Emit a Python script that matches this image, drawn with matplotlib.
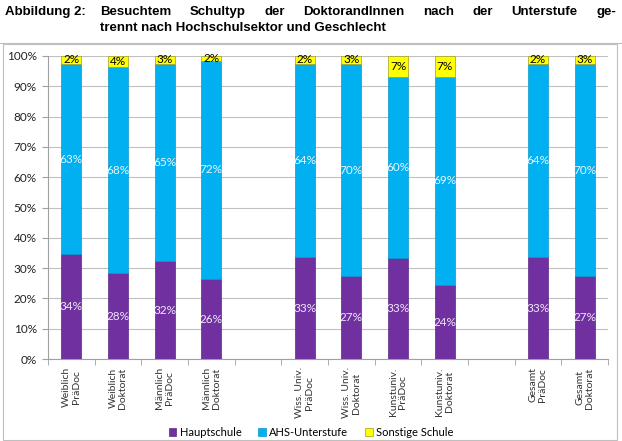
import numpy as np
import matplotlib
matplotlib.use('Agg')
import matplotlib.pyplot as plt
from matplotlib import font_manager
from matplotlib.patches import Rectangle, Patch

# categories (empty strings are the gaps between the groups)
categories = ['Weiblich\nPräDoc', 'Weiblich\nDoktorat', 'Männlich\nPräDoc', 'Männlich\nDoktorat', '',
              'Wiss. Univ.\nPräDoc', 'Wiss. Univ.\nDoktorat', 'Kunstuniv.\nPräDoc', 'Kunstuniv.\nDoktorat', '',
              'Gesamt\nPräDoc', 'Gesamt\nDoktorat']

# segment heights in percent
hauptschule = [34.6, 28.3, 32.3, 26.4, np.nan, 33.6, 27.3, 33.3, 24.4, np.nan, 33.6, 27.3]
ahs = [62.8, 68.1, 65.1, 72.0, np.nan, 63.8, 70.1, 59.7, 68.8, np.nan, 63.8, 70.1]
sonstige = [2.6, 3.6, 2.6, 1.6, np.nan, 2.6, 2.6, 7.0, 6.8, np.nan, 2.6, 2.6]

# printed data labels
lab_haupt = [34, 28, 32, 26, None, 33, 27, 33, 24, None, 33, 27]
lab_ahs = [63, 68, 65, 72, None, 64, 70, 60, 69, None, 64, 70]
lab_sonst = [2, 4, 3, 2, None, 2, 3, 7, 7, None, 2, 3]

series = ['Hauptschule', 'AHS-Unterstufe', 'Sonstige Schule']
colors = ['#7030a0', '#00b0f0', '#ffff00']
edges = ['#5c2888', '#0a98cc', '#a0a020']

W, H = 622, 441
fig = plt.figure(figsize=(W / 100, H / 100), dpi=100)
font = 'Lato'

# narrow bold font for the title if there is one
title_font, tsize = 'Liberation Sans', 9.5
for name in ['Liberation Sans Narrow', 'Arial Narrow']:
    try:
        font_manager.findfont(name, fallback_to_default=False)
        title_font, tsize = name, 11
        break
    except ValueError:
        pass

# ---- title, line 1 justified ----
fig.text(5 / W, 1 - 15 / H, 'Abbildung 2:', fontsize=tsize, fontweight='bold',
         family=title_font, va='baseline')
words = 'Besuchtem Schultyp der DoktorandInnen nach der Unterstufe ge-'.split()
txts = [fig.text(0, 1 - 15 / H, w, fontsize=tsize, fontweight='bold', family=title_font,
                 va='baseline') for w in words]
fig.canvas.draw()
r = fig.canvas.get_renderer()
widths = [t.get_window_extent(r).width for t in txts]
x0, x1 = 100, 616
gap = (x1 - x0 - sum(widths)) / (len(words) - 1)
x = x0
for t, w in zip(txts, widths):
    t.set_x(x / W)
    x += w + gap
fig.text(100 / W, 1 - 31 / H, 'trennt nach Hochschulsektor und Geschlecht', fontsize=tsize,
         fontweight='bold', family=title_font, va='baseline')

# chart frame
fig.patches.append(Rectangle((3 / W, 1 / H), 614 / W, 1 - 44 / H - 1 / H, transform=fig.transFigure,
                             fill=False, edgecolor='#bfbfbf', linewidth=0.8))
fig.add_artist(plt.Line2D([0, 1], [1 - 43 / H, 1 - 43 / H], color='#bfbfbf', linewidth=0.8))

# ---- bars ----
ax = fig.add_axes([48 / W, 1 - 359 / H, 560 / W, 303 / H])
xs = np.arange(len(categories))
hb = np.array(hauptschule)
ab = np.array(ahs)
sb = np.array(sonstige)
bw = 0.43
ax.bar(xs, hb, bw, color=colors[0], edgecolor=edges[0], linewidth=0.5, zorder=3)
ax.bar(xs, ab, bw, bottom=hb, color=colors[1], edgecolor=edges[1], linewidth=0.5, zorder=3)
ax.bar(xs, sb, bw, bottom=hb + ab, color=colors[2], edgecolor=edges[2], linewidth=0.5, zorder=3)

for i in range(len(categories)):
    if lab_haupt[i] is None:
        continue
    ax.text(xs[i], hb[i] / 2, '%d%%' % lab_haupt[i], ha='center', va='center',
            color='#f0e8f8', fontsize=8.5, family=font, zorder=4)
    ax.text(xs[i], hb[i] + ab[i] / 2, '%d%%' % lab_ahs[i], ha='center', va='center',
            color='#e8f8ff', fontsize=8.5, family=font, zorder=4)
    ax.text(xs[i], hb[i] + ab[i] + sb[i] / 2, '%d%%' % lab_sonst[i], ha='center', va='center',
            color='black', fontsize=8.5, family=font, zorder=4)

ax.set_xlim(-0.5, len(categories) - 0.5)
ax.set_ylim(0, 100)
ax.set_yticks(np.arange(0, 101, 10))
ax.set_yticklabels(['%d%%' % v for v in range(0, 101, 10)], family=font, fontsize=8.5)
ax.yaxis.grid(True, color='#c0c0c0', linewidth=0.8, zorder=0)
ax.set_axisbelow(True)

ax.set_xticks(xs)
ax.set_xticklabels(categories, rotation=90, family=font, fontsize=7.5, linespacing=1.1,
                   ha='center', va='top', color='#333333')
ax.set_xticks(np.arange(-0.5, len(categories)), minor=True)
ax.tick_params(axis='x', which='major', length=0, pad=6)
ax.tick_params(axis='x', which='minor', length=4, color='#a0a0a0')
ax.tick_params(axis='y', length=4, color='#a0a0a0', pad=4, labelcolor='#222222')
for s in ['top', 'right']:
    ax.spines[s].set_visible(False)
for s in ['left', 'bottom']:
    ax.spines[s].set_color('#a0a0a0')
    ax.spines[s].set_linewidth(0.8)

handles = [Patch(facecolor=c, edgecolor=e, linewidth=0.5) for c, e in zip(colors, edges)]
fig.legend(handles, series, loc='center', bbox_to_anchor=(311 / W, 1 - 432 / H), ncol=3,
           frameon=False, prop={'family': font, 'size': 8}, handlelength=0.7, handleheight=0.7,
           handletextpad=0.3, columnspacing=1.5)

fig.savefig('out.png', dpi=100)
